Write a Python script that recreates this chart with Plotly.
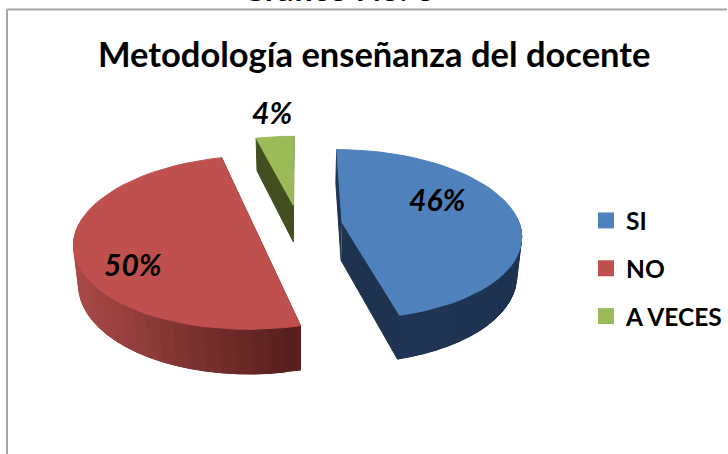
import numpy as np
import plotly.graph_objects as go

# ---- chart data ----
categories = ["SI", "NO", "A VECES"]
values = [46, 50, 4]
top_colors = ["#4F81BD", "#C0504D", "#9BBB59"]
title_text = "Metodología enseñanza del docente"
heading_text = "Gráfico No. 6"

# ---- projection of the tilted, exploded 3D pie onto the 728x454 canvas ----
VX, CY = 299.0, 225.0   # vanishing x, centre y
R = 178.0               # radius
EXPLODE = 44.0          # pull-out distance
TILT = 0.47             # vertical squash
PERSP = 0.14            # perspective strength
DEPTH = 38.0            # pie thickness
BOTTOM_SHRINK = 0.978   # lower rim shrinks toward vanishing point


def project(X, Y, bottom=False):
    X, Y = np.asarray(X, float), np.asarray(Y, float)
    s = 1.0 / (1.0 - PERSP * Y / R)
    px = X * s * (BOTTOM_SHRINK if bottom else 1.0)
    py = TILT * Y * s + (DEPTH * s if bottom else 0.0)
    return VX + px, CY + py


def arc(theta, ox, oy, bottom=False):
    return project(ox + R * np.sin(theta), oy - R * np.cos(theta), bottom)


fig = go.Figure()


def poly(xs, ys, color, name=None):
    fig.add_trace(go.Scatter(
        x=list(xs), y=list(ys), mode="lines", fill="toself", fillcolor=color,
        line=dict(color=color, width=1), hoverinfo="skip", showlegend=False,
        name=name or "",
    ))


def mix(c1, c2, t):
    a = [int(c1[i:i + 2], 16) for i in (1, 3, 5)]
    b = [int(c2[i:i + 2], 16) for i in (1, 3, 5)]
    return "#%02x%02x%02x" % tuple(round(p + (q - p) * t) for p, q in zip(a, b))


shares = np.array(values, float) / sum(values)
edges = np.concatenate([[0], np.cumsum(shares)]) * 2 * np.pi
# wall shading: (colour at the left of the rim, colour at the right)
rim_shade = [("#223758", "#1E3350"), ("#AA4A48", "#571F1D"), ("#434F21", "#434F21")]
wall_colors = ["#1E3350", "#5A2120", "#434F21"]

# draw order: back slice first, front slices later
for i in [2, 1, 0]:
    a0, a1 = edges[i], edges[i + 1]
    mid = (a0 + a1) / 2
    ox, oy = EXPLODE * np.sin(mid), -EXPLODE * np.cos(mid)
    # straight cut walls
    for a in (a0, a1):
        t = np.array([a])
        ex, ey = arc(t, ox, oy)
        fx, fy = arc(t, ox, oy, True)
        cx, cy = project([ox], [oy])
        dx, dy = project([ox], [oy], True)
        poly([cx[0], ex[0], fx[0], dx[0]], [cy[0], ey[0], fy[0], dy[0]], wall_colors[i])
    # outer rim split in strips for the shading; strips overlap to hide seams
    n = 40
    ts = np.linspace(a0, a1, n + 1)
    tx, ty = arc(ts, ox, oy)
    bx, by = arc(ts, ox, oy, True)
    for j in range(n):
        mid_t = (ts[j] + ts[j + 1]) / 2
        if np.cos(mid_t) > 0.05:      # rim faces away from the viewer
            continue
        shade = (tx[j] - tx.min()) / max(tx.max() - tx.min(), 1)
        k = min(j + 2, n)
        poly(np.r_[tx[j:k + 1], bx[j:k + 1][::-1]], np.r_[ty[j:k + 1], by[j:k + 1][::-1]],
             mix(*rim_shade[i], shade))
    # top face
    cx, cy = project([ox], [oy])
    poly(np.r_[cx, tx, cx], np.r_[cy, ty, cy], top_colors[i], categories[i])

# legend entries
for name, color in zip(categories, top_colors):
    fig.add_trace(go.Scatter(
        x=[None], y=[None], mode="markers", name=name, legendgroup=name,
        marker=dict(symbol="square", size=16, color=color),
    ))

FONT = "Lato, Carlito, Calibri, sans-serif"
label_pos = [(438, 199), (133, 264), (272, 112)]
for v, (lx, ly) in zip(values, label_pos):
    fig.add_annotation(
        x=lx, y=ly, xref="x", yref="y", text=f"<b><i>{v}%</i></b>", showarrow=False,
        font=dict(family=FONT, size=30, color="#000000"),
    )
fig.add_annotation(x=375, y=53, xref="x", yref="y", text=f"<b>{title_text}</b>",
                   showarrow=False, font=dict(family=FONT, size=34.5, color="#000000"))
fig.add_annotation(x=338, y=1, xref="x", yref="paper", yanchor="bottom", yshift=-10,
                   text=f"<b>{heading_text}</b>", showarrow=False,
                   font=dict(family=FONT, size=33, color="#000000"))

# chart frame
fig.add_shape(type="line", x0=7, x1=728, y0=9.5, y1=9.5, xref="x", yref="y",
              line=dict(color="#A6A6A6", width=2))
fig.add_shape(type="line", x0=7, x1=7, y0=9.5, y1=454, xref="x", yref="y",
              line=dict(color="#A6A6A6", width=2))

fig.update_layout(
    width=728, height=454, margin=dict(l=0, r=0, t=0, b=0),
    paper_bgcolor="#FFFFFF", plot_bgcolor="#FFFFFF",
    xaxis=dict(range=[0, 728], visible=False, fixedrange=True),
    yaxis=dict(range=[454, 0], visible=False, fixedrange=True),
    legend=dict(x=587 / 728, y=1 - 198 / 454, xanchor="left", yanchor="top",
                font=dict(family=FONT, size=24.5, color="#000000", weight="bold"),
                tracegroupgap=13, itemclick=False, itemdoubleclick=False,
                bgcolor="rgba(0,0,0,0)"),
)
fig.write_html("out.html", config={"displayModeBar": False},
               post_script="document.body.style.margin='0';document.body.style.overflow='hidden';")
